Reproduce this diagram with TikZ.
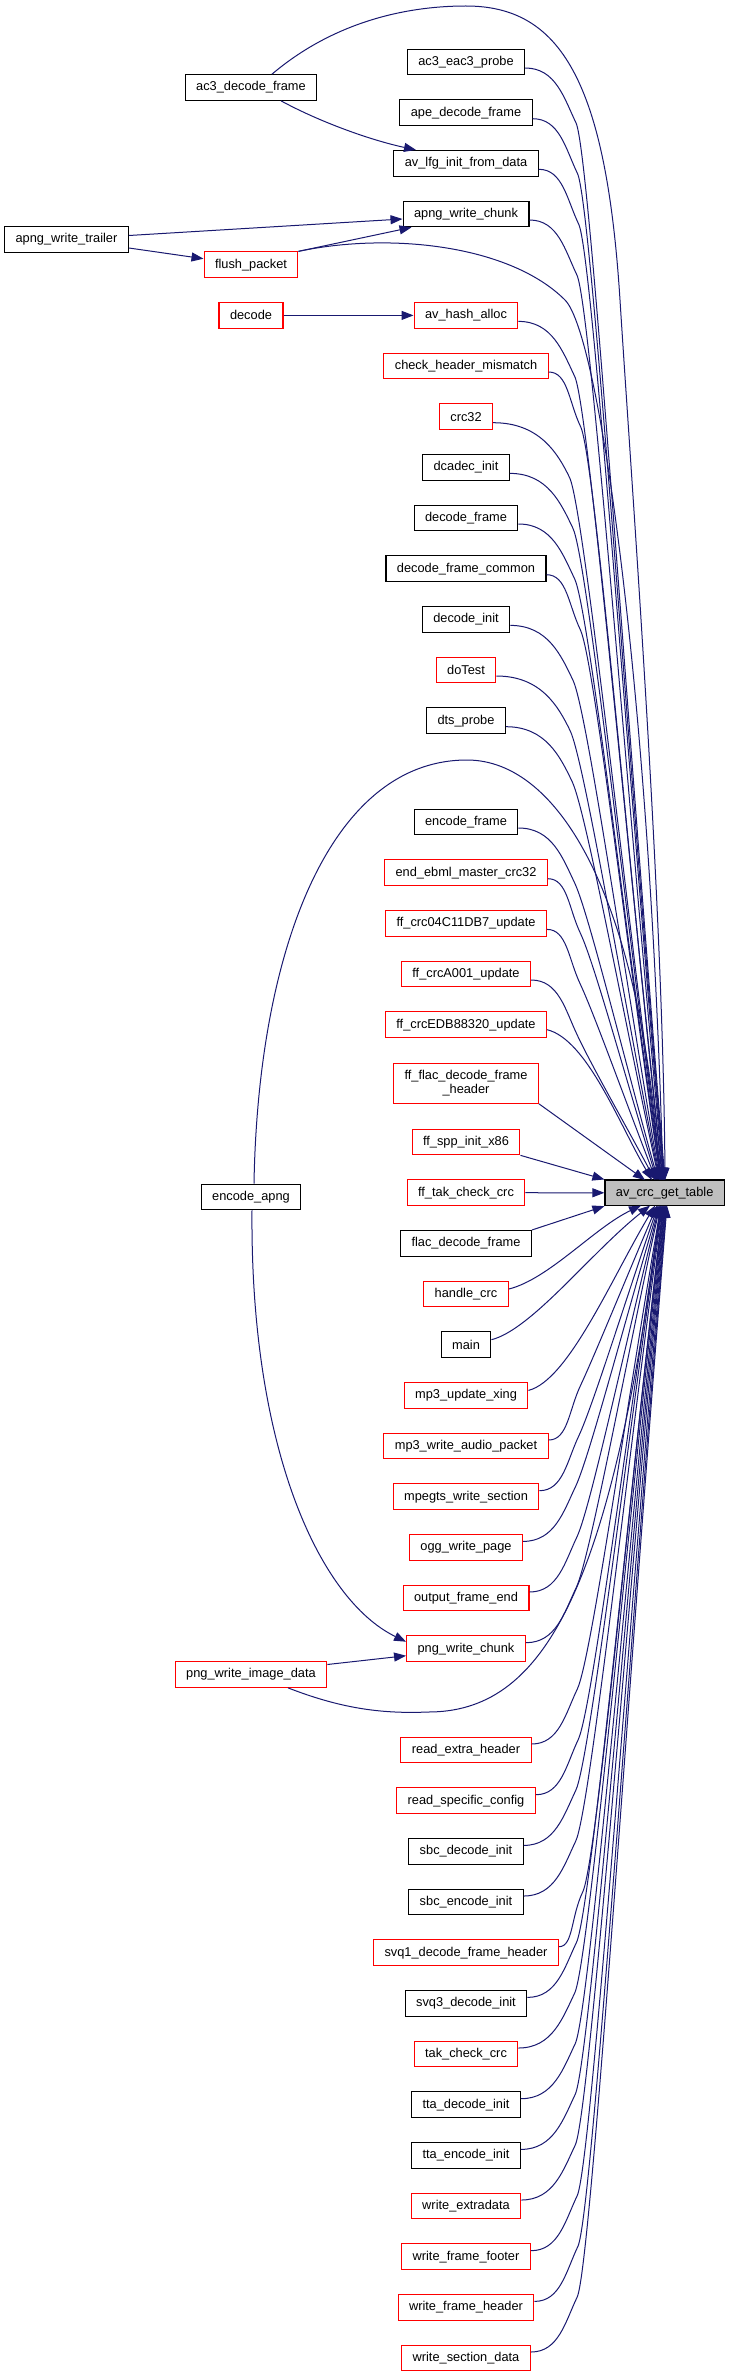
\documentclass[tikz,border=0pt]{standalone}
\usepackage{fontspec}
\setmainfont{Liberation Sans}
\usetikzlibrary{arrows.meta,calc}
\definecolor{edgec}{RGB}{25,25,112}
\definecolor{tgtfill}{RGB}{191,191,191}
\definecolor{boxred}{RGB}{255,0,0}
\newcommand\fs{\fontsize{12.8bp}{13.5bp}\selectfont}
\newcommand\upedge[2]{%
 \coordinate (ss) at ([yshift=-6bp]#1.east);
 \coordinate (pp) at ([yshift=-74.75bp]#1.east);
 \coordinate (kk) at ($(ss)!0.8!(pp -| cx)$);
 \coordinate (mm) at ($(ss)!0.6!(kk)$);
 \draw[edge] (ss) .. controls (mm |- ss) and ($(kk)+(-12,25)$) .. (kk)
   .. controls ($(kk)+(14,-30)$) and ($(#2,-1180)!0.4!(kk)$) .. (#2,-1180);}
\newcommand\dnedge[2]{%
 \coordinate (ss) at ([yshift=6bp]#1.east);
 \coordinate (pp) at ([yshift=74.75bp]#1.east);
 \coordinate (kk) at ($(ss)!0.8!(pp -| cx)$);
 \coordinate (mm) at ($(ss)!0.6!(kk)$);
 \draw[edge] (ss) .. controls (mm |- ss) and ($(kk)+(-12,-25)$) .. (kk)
   .. controls ($(kk)+(14,30)$) and ($(#2,-1205.6)!0.4!(kk)$) .. (#2,-1205.6);}
\newcommand\nearup[2]{%
 \draw[edge] ([yshift=-5bp]#1.east) .. controls +(40,-10) and ($(#2,-1180)!0.5!([xshift=40bp,yshift=-45bp]#1.east)$) .. (#2,-1180);}
\newcommand\neardn[2]{%
 \draw[edge] ([yshift=5bp]#1.east) .. controls +(40,10) and ($(#2,-1205.6)!0.5!([xshift=40bp,yshift=45bp]#1.east)$) .. (#2,-1205.6);}
\begin{document}
\begin{tikzpicture}[x=1bp,y=1bp,
  box/.style={rectangle, line width=1.1bp, minimum height=25.6bp, inner xsep=11bp, inner ysep=2bp, font=\fs, fill=white},
  bk/.style={box, draw=black},
  rd/.style={box, draw=boxred},
  tg/.style={box, draw=black, fill=tgtfill},
  edge/.style={draw=edgec, line width=1bp, -{Triangle[length=12bp,width=9bp]}}]
\path[use as bounding box, fill=white] (0,0) rectangle (729,-2377);
\coordinate (cx) at (588.75,0);
% left column
\node[bk] (ac3df) at (251,-87.5) {ac3\_decode\_frame};
\node[bk] (awt) at (66.5,-239.5) {apng\_write\_trailer};
\node[rd] (fp) at (251,-264.7) {flush\_packet};
\node[rd] (dec) at (251,-315.4) {decode};
\node[bk] (enca) at (251,-1197) {encode\_apng};
\node[rd] (pwid) at (251,-1674.5) {png\_write\_image\_data};
% right column
\node[bk] (ac3ep) at (466,-62) {ac3\_eac3\_probe};
\node[bk] (apedf) at (466,-112.7) {ape\_decode\_frame};
\node[bk] (avlfg) at (466,-163.3) {av\_lfg\_init\_from\_data};
\node[bk] (awc) at (466,-214) {apng\_write\_chunk};
\node[rd] (aha) at (466,-315.4) {av\_hash\_alloc};
\node[rd] (chm) at (466,-366) {check\_header\_mismatch};
\node[rd] (crc) at (466,-416.7) {crc32};
\node[bk] (dca) at (466,-467.4) {dcadec\_init};
\node[bk] (decf) at (466,-518) {decode\_frame};
\node[bk] (dfc) at (466,-568.7) {decode\_frame\_common};
\node[bk] (deci) at (466,-619.4) {decode\_init};
\node[rd] (dot) at (466,-670) {doTest};
\node[bk] (dts) at (466,-720.7) {dts\_probe};
\node[bk] (encf) at (466,-822) {encode\_frame};
\node[rd] (eem) at (466,-872.7) {end\_ebml\_master\_crc32};
\node[rd] (c04) at (466,-923.4) {ff\_crc04C11DB7\_update};
\node[rd] (ca0) at (466,-974) {ff\_crcA001\_update};
\node[rd] (ced) at (466,-1024.7) {ff\_crcEDB88320\_update};
\node[rd, align=center, minimum height=40bp] (ffl) at (466,-1083.3) {ff\_flac\_decode\_frame\\\_header};
\node[rd] (spp) at (466,-1142) {ff\_spp\_init\_x86};
\node[rd] (tak) at (466,-1192.7) {ff\_tak\_check\_crc};
\node[bk] (fdf) at (466,-1243.3) {flac\_decode\_frame};
\node[rd] (hcrc) at (466,-1294) {handle\_crc};
\node[bk] (mn) at (466,-1344.7) {main};
\node[rd] (mux) at (466,-1395.4) {mp3\_update\_xing};
\node[rd] (mwap) at (466,-1446) {mp3\_write\_audio\_packet};
\node[rd] (mws) at (466,-1496.7) {mpegts\_write\_section};
\node[rd] (owp) at (466,-1547.4) {ogg\_write\_page};
\node[rd] (ofe) at (466,-1598) {output\_frame\_end};
\node[rd] (pwc) at (466,-1648.7) {png\_write\_chunk};
\node[rd] (reh) at (466,-1750) {read\_extra\_header};
\node[rd] (rsc) at (466,-1800.7) {read\_specific\_config};
\node[bk] (sdi) at (466,-1851.4) {sbc\_decode\_init};
\node[bk] (sei) at (466,-1902) {sbc\_encode\_init};
\node[rd] (svq1) at (466,-1952.7) {svq1\_decode\_frame\_header};
\node[bk] (svq3) at (466,-2003.4) {svq3\_decode\_init};
\node[rd] (tcc) at (466,-2054) {tak\_check\_crc};
\node[bk] (tdi) at (466,-2104.7) {tta\_decode\_init};
\node[bk] (tei) at (466,-2155.4) {tta\_encode\_init};
\node[rd] (wed) at (466,-2206) {write\_extradata};
\node[rd] (wff) at (466,-2256.7) {write\_frame\_footer};
\node[rd] (wfh) at (466,-2307.4) {write\_frame\_header};
\node[rd] (wsd) at (466,-2358) {write\_section\_data};
% target
\node[tg] (tgt) at (664.7,-1192.8) {av\_crc\_get\_table};
% other edges
\draw[edge] ([xshift=30bp]ac3df.south) .. controls (320,-122) and (370,-140) .. ([xshift=-50bp]avlfg.north);
\draw[edge] ([yshift=4bp]awt.east) -- ([yshift=-5bp]awc.west);
\draw[edge] ([yshift=-8.5bp]awt.east) -- ([yshift=6bp]fp.west);
\draw[edge] (fp.north east) -- ([xshift=9bp]awc.south west);
\draw[edge] (dec) -- (aha);
\draw[edge] ([xshift=1bp]enca.south) .. controls (250,-1450) and (320,-1600) .. ([yshift=7bp]pwc.west);
\draw[edge] ([yshift=10bp]pwid.east) -- ([yshift=-7bp]pwc.west);
% edges into target: special
\draw[edge] ([xshift=21bp]ac3df.north) .. controls (330,-25) and (400,-6) .. (466,-6)
  .. controls (560,-6) and (606,-80) .. (620,-300)
  .. controls (632,-490) and (663,-900) .. (665,-1180);
\draw[edge] (fp.north east) .. controls (390,-232) and (510,-245) .. (565,-300)
  .. controls (600,-335) and (650,-700) .. (663,-1180);
\draw[edge] ([xshift=3bp]enca.north) .. controls (258,-950) and (330,-760) .. (467,-760)
  .. controls (560,-760) and (640,-900) .. (660,-1180);
\draw[edge] ([xshift=37bp]pwid.south) .. controls (340,-1708) and (380,-1714) .. (428,-1712)
  .. controls (540,-1712) and (610,-1600) .. (660.5,-1205.6);
\draw[edge] (spp.south east) -- (tgt.north west);
\draw[edge] (tak) -- (tgt);
\draw[edge] (fdf.north east) -- (tgt.south west);
\draw[edge] (ffl.south east) -- (645,-1180);
% generic edges from above
\upedge{ac3ep}{665}
\upedge{apedf}{664.5}
\upedge{avlfg}{664}
\upedge{awc}{663.5}
\upedge{aha}{663}
\upedge{chm}{662.5}
\upedge{crc}{662}
\upedge{dca}{661.5}
\upedge{decf}{661}
\upedge{dfc}{660.5}
\upedge{deci}{660}
\upedge{dot}{659.5}
\upedge{dts}{659}
\upedge{encf}{658}
\upedge{eem}{657}
\upedge{c04}{656}
\upedge{ca0}{655}
\nearup{ced}{652}
% generic edges from below
\neardn{hcrc}{641}
\neardn{mn}{650}
\neardn{mux}{655}
\dnedge{mwap}{657}
\dnedge{mws}{658}
\dnedge{owp}{659}
\dnedge{ofe}{659.5}
\dnedge{pwc}{660}
\dnedge{reh}{661}
\dnedge{rsc}{661.5}
\dnedge{sdi}{662}
\dnedge{sei}{662.5}
\dnedge{svq1}{663}
\dnedge{svq3}{663.5}
\dnedge{tcc}{664}
\dnedge{tdi}{664.5}
\dnedge{tei}{665}
\dnedge{wed}{665.5}
\dnedge{wff}{666}
\dnedge{wfh}{666.5}
\dnedge{wsd}{667}
\end{tikzpicture}
\end{document}
